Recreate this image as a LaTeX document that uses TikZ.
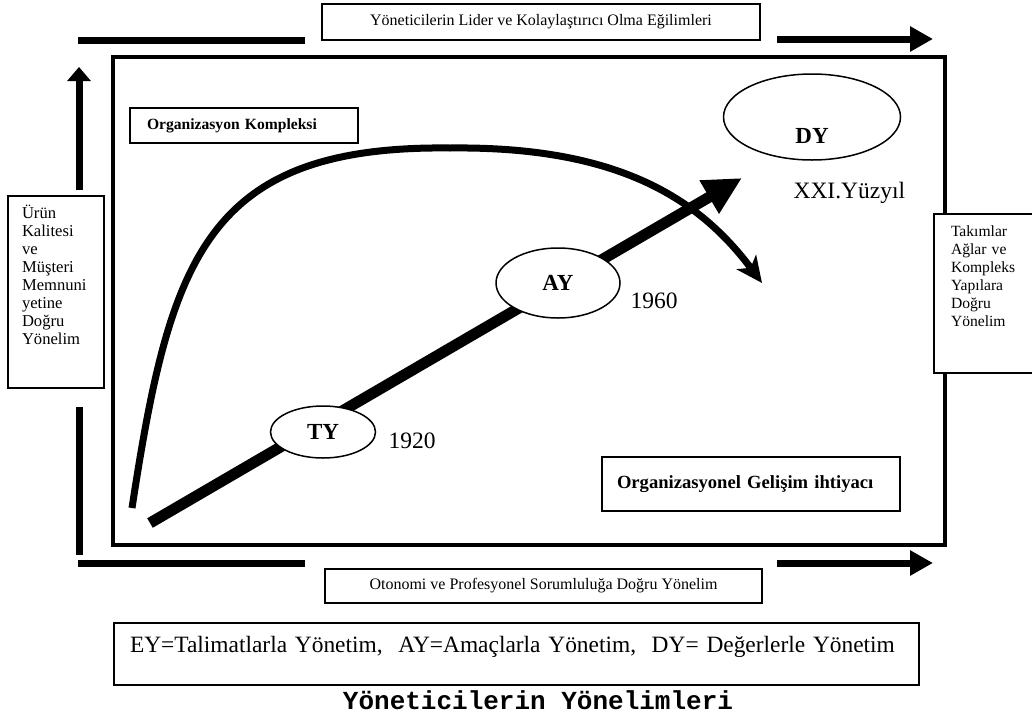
\documentclass[tikz,border=0pt]{standalone}
\usepackage{fontspec}
\setmainfont{Liberation Serif}
\newfontfamily\titlefont{Liberation Mono}
\usetikzlibrary{positioning}
\usetikzlibrary{arrows.meta}
\usetikzlibrary{shapes.geometric}

\begin{document}
\begin{tikzpicture}[x=1pt, y=-1pt,
	labelbox/.style={draw, line width={2pt}, fill=white, inner sep=0pt},
	sidebox/.style={draw, line width={2pt}, fill=white, anchor=north west, align=left},
	era/.style={draw, ellipse, line width={1.5pt}, fill=white, inner sep=0pt, font=\fontsize{23}{26}\selectfont\bfseries},
	year/.style={anchor=base west, font=\fontsize{23.5}{26}\selectfont},
	bar/.style={line width={7pt}},
	bigarrow/.style={line width={7pt}, -{Triangle[length=23pt, width=24pt]}},
	]
			\useasboundingbox (0,0) rectangle (1032,715);
			\draw[line width={3.5pt}] (113,57) rectangle (945,545);
			\coordinate (trend-start) at (150,523);
			\coordinate (trend-end) at (742,178);
			\coordinate (curve-start) at (132,508);
			\coordinate (curve-top) at (450,148);
			\coordinate (curve-end) at (762,283);
			\draw[line width={11pt}, -{Triangle[length=38pt, width=36pt]}] (trend-start) to (trend-end);
			\draw[line width={7pt}, -{Stealth[length=26pt, width=24pt, inset=7pt]}] (curve-start) .. controls (170,260) and (205,145) .. (curve-top) .. controls (620,146) and (700,200) .. (curve-end);
			\node[era, minimum width=105pt, minimum height=52pt] (ty) at (323,432) {TY};
			\node[era, minimum width=124pt, minimum height=70pt] (ay) at (558,283) {AY};
			\node[era, minimum width=177pt, minimum height=86pt, text height=52pt, text depth=0pt] (dy) at (812,117) {DY};
			\node[year] (year-1920) at (385,448) {1920};
			\node[year] (year-1960) at (627,308) {1960};
			\node[year] (year-xxi) at (790,198) {XXI.Yüzyıl};
			\node[labelbox, minimum width=228pt, minimum height=35pt, inner xsep=17pt, text width=194pt, align=left, font=\fontsize{15.6}{18}\selectfont\bfseries] (kompleks) at (244,125.5) {Organizasyon Kompleksi};
			\node[labelbox, minimum width=298pt, minimum height=54pt, inner xsep=15pt, text width=268pt, align=left, font=\fontsize{18.6}{21}\selectfont\bfseries] (gelisim) at (751,484) {Organizasyonel Gelişim ihtiyacı};
			\node[labelbox, minimum width=438pt, minimum height=36pt, font=\fontsize{16}{18}\selectfont] (lider) at (541,22) {Yöneticilerin Lider ve Kolaylaştırıcı Olma Eğilimleri};
			\node[labelbox, minimum width=437pt, minimum height=34pt, font=\fontsize{16}{18}\selectfont] (otonomi) at (543.5,586) {Otonomi ve Profesyonel Sorumluluğa Doğru Yönelim};
			\node[sidebox, inner xsep=14pt, inner ysep=9pt, text width=68pt, text depth=161pt, font=\fontsize{16.6}{18}\selectfont] (urun) at (7,195) {Ürün\\Kalitesi\\ve\\Müşteri\\Memnuni\\yetine\\Doğru\\Yönelim};
			\node[sidebox, inner xsep=17pt, inner ysep=12pt, text width=66pt, text depth=124pt, font=\fontsize{15.6}{18}\selectfont] (takim) at (933,213) {Takımlar\\Ağlar ve\\Kompleks\\Yapılara\\Doğru\\Yönelim};
			\node[sidebox, inner xsep=16pt, inner ysep=13pt, text width=773pt, text height=16pt, text depth=20pt, font=\fontsize{23.4}{26}\selectfont] (tanim) at (113,622) {\mbox{EY=Talimatlarla Yönetim,~ AY=Amaçlarla Yönetim,~ DY=~Değerlerle Yönetim}};
			\node[font=\titlefont\bfseries\fontsize{26}{28}\selectfont] (baslik) at (538,700) {Yöneticilerin Yönelimleri};
			\coordinate (top-a) at (78,40);
			\coordinate (top-b) at (305,40);
			\coordinate (top-c) at (777,39);
			\coordinate (top-d) at (933,39);
			\coordinate (bot-a) at (78,563);
			\coordinate (bot-b) at (305,563);
			\coordinate (bot-c) at (777,563);
			\coordinate (bot-d) at (933,563);
			\coordinate (left-a) at (79,555);
			\coordinate (left-b) at (79,407);
			\coordinate (left-c) at (79,190);
			\coordinate (left-d) at (79,67);
			\draw[bar] (top-a) to (top-b);
			\draw[bigarrow] (top-c) to (top-d);
			\draw[bar] (bot-a) to (bot-b);
			\draw[bigarrow] (bot-c) to (bot-d);
			\draw[bar] (left-a) to (left-b);
			\draw[line width={7pt}, -{Triangle[length=14pt, width=23pt]}] (left-c) to (left-d);
\end{tikzpicture}
\end{document}
